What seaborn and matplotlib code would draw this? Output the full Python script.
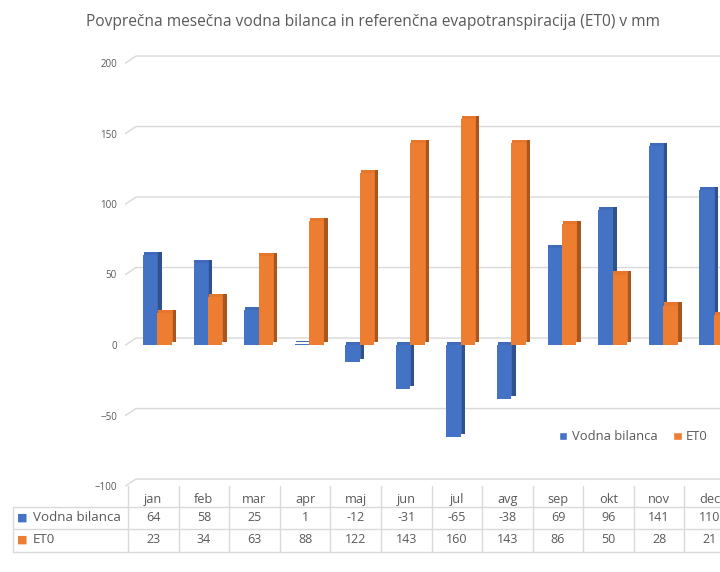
import pandas as pd
import seaborn as sns
import matplotlib.pyplot as plt
import matplotlib.transforms as mtransforms
import matplotlib.patheffects as pe
from matplotlib.patches import Patch

months = ['jan', 'feb', 'mar', 'apr', 'maj', 'jun', 'jul', 'avg', 'sep', 'okt', 'nov', 'dec']
vodna_bilanca = [64, 58, 25, 1, -12, -31, -65, -38, 69, 96, 141, 110]
et0 = [23, 34, 63, 88, 122, 143, 160, 143, 86, 50, 28, 21]
series_names = ['Vodna bilanca', 'ET0']
y_ticks = [-100, -50, 0, 50, 100, 150, 200]
title = 'Povprečna mesečna vodna bilanca in referenčna evapotranspiracija (ET0) v mm'

blue, orange = '#4472C4', '#ED7D31'
blue_dark, orange_dark = '#2F528F', '#A8561E'
blue_top, orange_top = '#3F6BBA', '#E5762B'
grid_col = '#D9D9D9'
text_col = '#595959'

df = pd.DataFrame({
    'mesec': months * 2,
    'vrednost': vodna_bilanca + et0,
    'serija': [series_names[0]] * 12 + [series_names[1]] * 12,
})

sns.set_style('white')
plt.rcParams['font.family'] = ['Open Sans', 'DejaVu Sans']

fig = plt.figure(figsize=(7.2, 5.72), dpi=100)
# axes runs a bit past the right edge, like the cropped original
ax = fig.add_axes([128 / 720, 86 / 572, 607 / 720, 423 / 572])

sns.barplot(data=df, x='mesec', y='vrednost', hue='serija', order=months,
            hue_order=series_names, palette=[blue, orange], width=0.57,
            saturation=1, legend=False, linewidth=0, edgecolor='none',
            ax=ax, zorder=3)

# fake 3d depth: dark side to the right, top face above
for cont, dark, top in zip(ax.containers, [blue_dark, orange_dark], [blue_top, orange_top]):
    for bar in cont:
        bar.set_path_effects([
            pe.SimplePatchShadow(offset=(3, 2.2), shadow_rgbFace=dark, alpha=1),
            pe.SimplePatchShadow(offset=(0.6, 2.2), shadow_rgbFace=top, alpha=1),
            pe.Normal(),
        ])

ax.set_xlim(-0.58, 11.42)
ax.set_ylim(-100, 200)
ax.set_xlabel('')
ax.set_ylabel('')
ax.set_xticks([])
ax.set_yticks(y_ticks)
ax.tick_params(axis='y', length=0, pad=8, labelsize=7, labelcolor=text_col)
for s in ax.spines.values():
    s.set_visible(False)

# back-wall gridlines with a slanted piece on the left
dx, dy = 8 / 607, 4.95
ytrans = ax.get_yaxis_transform()
for v in y_ticks:
    ax.plot([-0.004, dx, 1.1], [v, v + dy, v + dy], color=grid_col, lw=1,
            transform=ytrans, clip_on=False, zorder=0)

# data table under the plot
trans = mtransforms.blended_transform_factory(ax.transData, ax.transAxes)
left = -0.1895
row_y = [-0.0283, -0.0755, -0.127]
line_y = [-0.0495, -0.1014, -0.1557]
for yl in line_y:
    ax.plot([left, 1.1], [yl, yl], color=grid_col, lw=1, transform=ax.transAxes,
            clip_on=False)
ax.plot([left, left], [line_y[0], line_y[-1]], color=grid_col, lw=1,
        transform=ax.transAxes, clip_on=False)
for i in range(len(months) + 1):
    ax.plot([i - 0.58, i - 0.58], [0, line_y[-1]], color=grid_col, lw=1,
            transform=trans, clip_on=False)

for i, m in enumerate(months):
    ax.text(i - 0.08, row_y[0] - 0.004, m, transform=trans, ha='center', va='center',
            fontsize=9.2, color=text_col)
    ax.text(i - 0.08, row_y[1], str(vodna_bilanca[i]), transform=trans, ha='center',
            va='center', fontsize=9, color=text_col)
    ax.text(i - 0.08, row_y[2], str(et0[i]), transform=trans, ha='center',
            va='center', fontsize=9, color=text_col)

for yy, name, col in zip(row_y[1:], series_names, [blue, orange]):
    ax.text(left + 0.006, yy, '■', transform=ax.transAxes, ha='left', va='center',
            fontsize=8, color=col)
    ax.text(-0.1565, yy, name, transform=ax.transAxes, ha='left', va='center',
            fontsize=9.6, color=text_col)

handles = [Patch(facecolor=blue), Patch(facecolor=orange)]
fig.legend(handles, series_names, loc='center left',
           bbox_to_anchor=(547 / 720, 1 - 437 / 572), frameon=False, ncol=2,
           fontsize=9.4, handlelength=0.65, handleheight=0.65, columnspacing=1.2,
           handletextpad=0.35, labelcolor=text_col)

fig.text(373 / 720, 1 - 22 / 572, title, ha='center', va='center',
         fontsize=11.2, color=text_col)

fig.savefig('out.png', dpi=100)
